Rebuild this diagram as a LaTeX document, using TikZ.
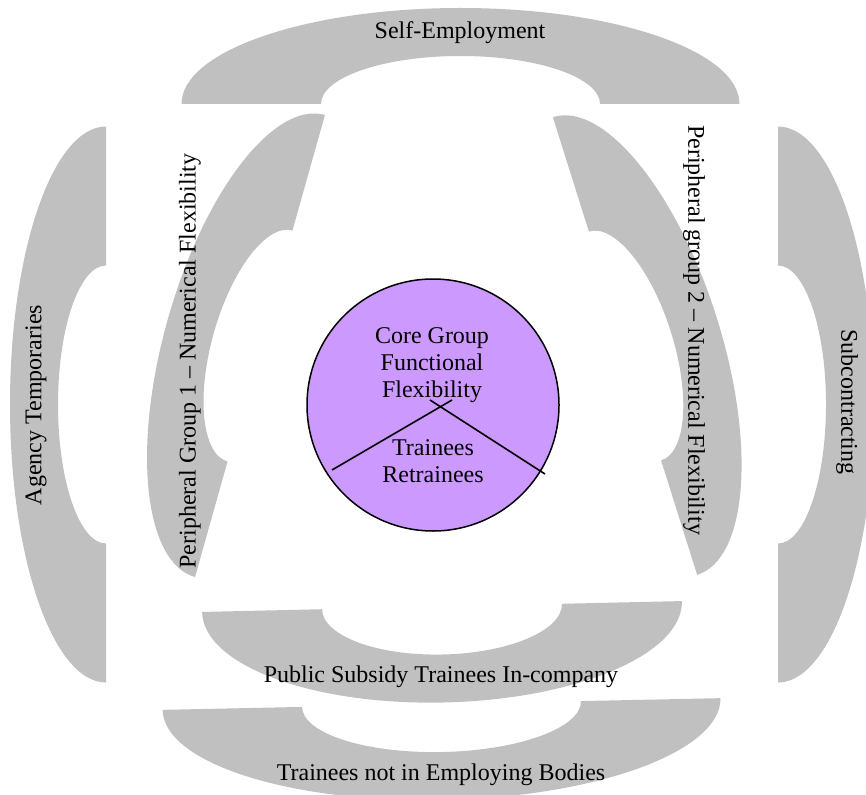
\documentclass[tikz,border=0pt]{standalone}
\usepackage{fontspec}
\setmainfont{Liberation Serif}
\definecolor{bandgray}{HTML}{C0C0C0}
\definecolor{corepurple}{HTML}{CC99FF}
\newcommand\HalfRing[5]{%
  \begin{scope}[shift={(#1,#2)},rotate=#3]
    \fill[band] (-#4,0) arc[start angle=180,end angle=0,x radius=#4,y radius=#5]
      -- ({#4/2},0) arc[start angle=0,end angle=180,x radius={#4/2},y radius={#5/2}] -- cycle;
  \end{scope}}
\begin{document}
\begin{tikzpicture}[x=1pt,y=1pt,
  band/.style={fill=bandgray,draw=none},
  lbl/.style={font=\fontsize{24}{27}\selectfont,inner sep=0pt,align=center},
  core/.style={circle,fill=corepurple,draw=black,line width=1.5pt,minimum size=252pt,inner sep=0pt},
  divider/.style={draw=black,line width=1.6pt}]
\useasboundingbox (0,0) rectangle (866,-794);
\clip (0,0) rectangle (866,-794);
% bands
\HalfRing{460.5}{-104}{0}{279}{96}
\HalfRing{106}{-404.5}{90}{278}{96}
\HalfRing{778}{-404.5}{-90}{278}{96}
\HalfRing{260}{-346}{74.3}{240}{96}
\HalfRing{625}{-346}{-72.5}{240}{96}
\HalfRing{442}{-606.5}{181.3}{240}{96}
\HalfRing{441.5}{-704}{181.2}{279}{96}
% labels
\node[lbl] (self) at (460,-33) {Self-Employment};
\node[lbl,rotate=90] (agency) at (36,-405) {Agency Temporaries};
\node[lbl,rotate=-90] (sub) at (847,-402) {Subcontracting};
\node[lbl,rotate=90] (p1) at (190,-361) {Peripheral Group 1 -- Numerical Flexibility};
\node[lbl,rotate=-90] (p2) at (694,-330) {Peripheral group 2 -- Numerical Flexibility};
\node[lbl] (ps) at (441,-677) {Public Subsidy Trainees In-company};
\node[lbl] (tn) at (441,-775) {Trainees not in Employing Bodies};
% core
\node[core] (coreC) at (433,-405) {};
\coordinate (la) at (332,-470);
\coordinate (lb) at (452,-400);
\coordinate (ra) at (430,-400);
\coordinate (rb) at (545,-474);
\draw[divider] (la) -- (lb);
\draw[divider] (ra) -- (rb);
\node[lbl] (coretxt) at (432,-365) {Core Group\\Functional\\Flexibility};
\node[lbl] (trtxt) at (433,-461) {Trainees\\Retrainees};
\end{tikzpicture}
\end{document}
